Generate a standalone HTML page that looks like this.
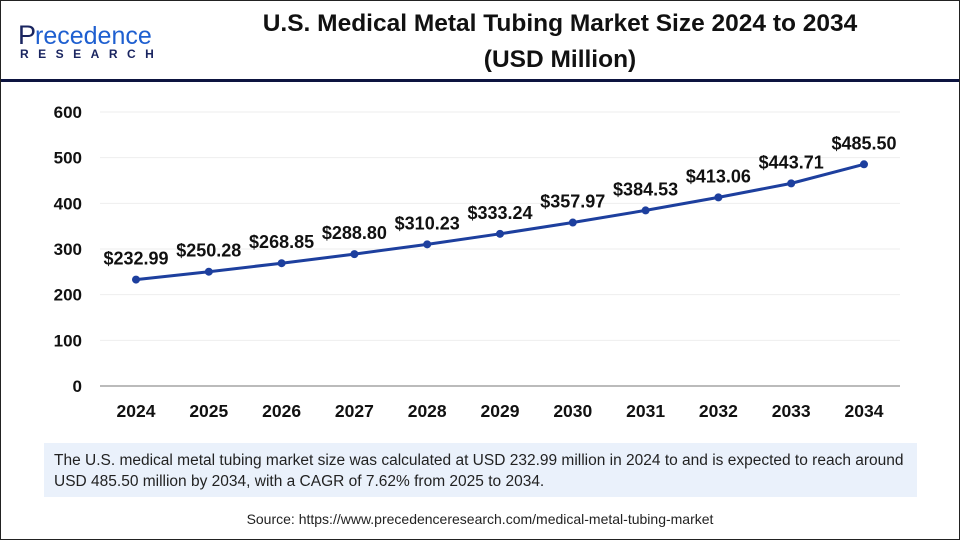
<!DOCTYPE html>
<html><head><meta charset="utf-8"><style>
body{margin:0;width:960px;height:540px;overflow:hidden;background:#fff;font-family:"Liberation Sans",sans-serif}
#frame{position:absolute;left:0;top:0;width:958px;height:538px;border:1px solid #222}
</style></head><body>
<div id="frame"></div>
<svg width="960" height="540" style="position:absolute;left:0;top:0">
<g>
<text x="18" y="44" font-size="27" fill="#1a2560" font-family="Liberation Sans">P</text>
<text x="35" y="44" font-size="25" fill="#1e5fd0">recedence</text>
<text x="20" y="58" font-size="12" font-weight="bold" fill="#1a2560" letter-spacing="9.5">RESEARCH</text>
</g>
<text x="560" y="31" text-anchor="middle" font-size="24.5" font-weight="bold" fill="#111">U.S. Medical Metal Tubing Market Size 2024 to 2034</text>
<text x="560" y="67" text-anchor="middle" font-size="24.5" font-weight="bold" fill="#111">(USD Million)</text>
<rect x="1" y="79" width="958" height="3" fill="#0d1440"/>
<g id="grid"></g><g id="plot"></g>
<rect x="44" y="443" width="873" height="54" fill="#eaf1fb"/>
<text x="54" y="465" font-size="15.5" fill="#222">The U.S. medical metal tubing market size was calculated at USD 232.99 million in 2024 to and is expected to reach around</text>
<text x="54" y="486" font-size="15.5" fill="#222">USD 485.50 million by 2034, with a CAGR of 7.62% from 2025 to 2034.</text>
<text x="480" y="524" text-anchor="middle" font-size="14" fill="#222">Source: https://www.precedenceresearch.com/medical-metal-tubing-market</text>
</svg>
<script>
const years=["2024","2025","2026","2027","2028","2029","2030","2031","2032","2033","2034"];
const values=[232.99,250.28,268.85,288.80,310.23,333.24,357.97,384.53,413.06,443.71,485.50];
const yTicks=[0,100,200,300,400,500,600];
const NS="http://www.w3.org/2000/svg";
const x=i=>136+i*72.8;
const y=v=>386-v*(274/600);
function mk(t,a,p,txt){const e=document.createElementNS(NS,t);for(const k in a)e.setAttribute(k,a[k]);if(txt!==undefined)e.textContent=txt;p.appendChild(e);return e;}
const grid=document.getElementById('grid'),plot=document.getElementById('plot');
yTicks.forEach(t=>{
 const l=mk('line',{x1:100,x2:900,y1:y(t),y2:y(t),stroke:t===0?'#bbb':'#eee','stroke-width':t===0?2:1},grid);
 
 
 const tx=mk('text',{x:82,y:y(t)+6,'text-anchor':'end','font-size':17,'font-weight':'bold',fill:'#111'},grid,String(t));
 
 
});
years.forEach((yr,i)=>{
 const tx=mk('text',{x:x(i),y:417,'text-anchor':'middle','font-size':17.5,'font-weight':'bold',fill:'#111'},grid,yr);
 
 
});
const pts=values.map((v,i)=>x(i)+','+y(v)).join(' ');
const pl=mk('polyline',{points:pts,fill:'none',stroke:'#1d3f9e','stroke-width':3},plot);


values.forEach((v,i)=>{
 const c=mk('circle',{cx:x(i),cy:y(v),r:4,fill:'#1d3f9e'},plot);
 
 
 const t=mk('text',{x:x(i),y:y(v)-15,'text-anchor':'middle','font-size':18,'font-weight':'bold',fill:'#111'},plot,'$'+v.toFixed(2));
 
 
});
</script>
</body></html>
